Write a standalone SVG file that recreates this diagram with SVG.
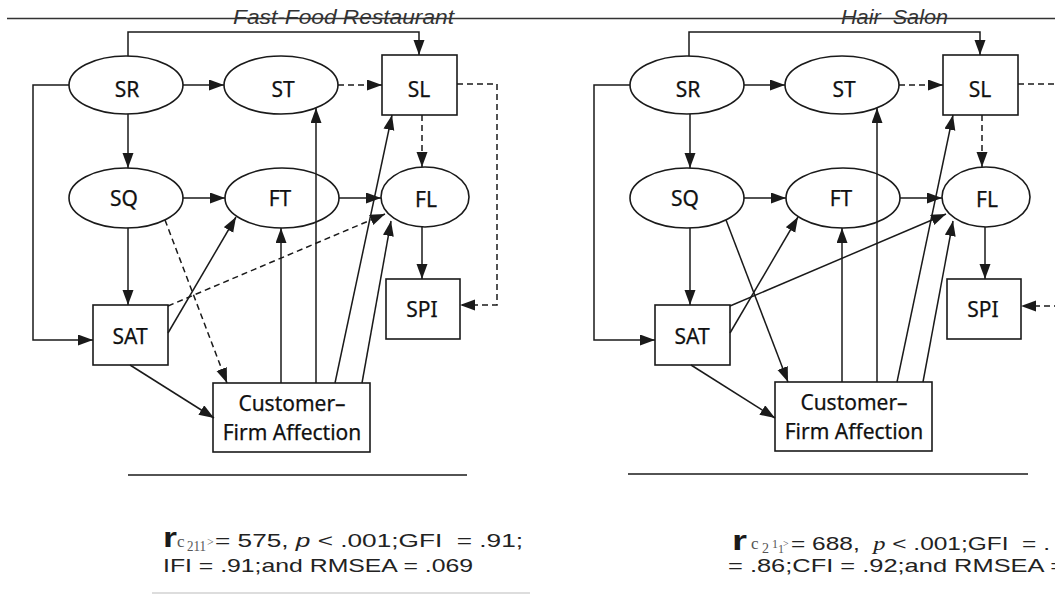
<svg xmlns="http://www.w3.org/2000/svg" width="1055" height="594" viewBox="0 0 1055 594">
<defs>
<style>
.ln{stroke:#1a1a1a;stroke-width:1.5;fill:none}
.dash{stroke-dasharray:6 4}
.nd{fill:#fff;stroke:#1a1a1a;stroke-width:1.6}
.lbl{font-family:"Noto Sans","Open Sans",sans-serif;font-size:21px;fill:#111;text-anchor:middle;stroke:#111;stroke-width:0.25}
.ttl{font-family:"Liberation Sans",Arial,sans-serif;font-style:italic;font-size:20px;fill:#333}
.st{font-family:"Liberation Sans",Arial,sans-serif;font-size:19px;fill:#222}
.rr{font-family:"Liberation Sans",Arial,sans-serif;font-weight:bold;font-size:28px;fill:#1a1a1a}
.sub{font-family:"Liberation Serif","Times New Roman",serif;fill:#555}
</style>
<marker id="ah" markerUnits="userSpaceOnUse" markerWidth="16" markerHeight="12" refX="15" refY="5.5" orient="auto">
<path d="M0,0 L15,5.5 L0,11 z" fill="#1a1a1a"/>
</marker>
</defs>
<rect width="1055" height="594" fill="#fff"/>

<!-- header rule and titles -->
<line x1="7" y1="18.5" x2="1055" y2="18.5" stroke="#333" stroke-width="1.3"/>
<text class="ttl" x="233" y="24" textLength="221" lengthAdjust="spacingAndGlyphs">Fast-Food Restaurant</text>
<text class="ttl" x="841" y="24" textLength="107" lengthAdjust="spacingAndGlyphs" xml:space="preserve">Hair  Salon</text>

<!-- LEFT PANEL NODES -->
<g id="L-SR"><ellipse class="nd" cx="126" cy="85" rx="57" ry="29"/><text class="lbl" x="127" y="97">SR</text></g>
<g id="L-ST"><ellipse class="nd" cx="281" cy="85" rx="57" ry="29"/><text class="lbl" x="283" y="97">ST</text></g>
<g id="L-SL"><rect class="nd" x="382" y="55" width="75" height="60"/><text class="lbl" x="419" y="97">SL</text></g>
<g id="L-SQ"><ellipse class="nd" cx="126" cy="198" rx="57" ry="30"/><text class="lbl" x="124" y="206">SQ</text></g>
<g id="L-FT"><ellipse class="nd" cx="282" cy="198" rx="57" ry="30"/><text class="lbl" x="280" y="206">FT</text></g>
<g id="L-FL"><ellipse class="nd" cx="425" cy="197" rx="44" ry="30"/><text class="lbl" x="426" y="207">FL</text></g>
<g id="L-SPI"><rect class="nd" x="386" y="279" width="74" height="60"/><text class="lbl" x="422" y="317">SPI</text></g>
<g id="L-SAT"><rect class="nd" x="93" y="305" width="75" height="60"/><text class="lbl" x="130" y="344">SAT</text></g>
<g id="L-CFA"><rect class="nd" x="213" y="383" width="157" height="69"/><text class="lbl" x="292" y="411">Customer–</text><text class="lbl" x="292" y="440">Firm Affection</text></g>

<!-- RIGHT PANEL NODES -->
<g id="R-SR"><ellipse class="nd" cx="687" cy="85" rx="57" ry="29"/><text class="lbl" x="688" y="97">SR</text></g>
<g id="R-ST"><ellipse class="nd" cx="842" cy="85" rx="57" ry="29"/><text class="lbl" x="844" y="97">ST</text></g>
<g id="R-SL"><rect class="nd" x="943" y="55" width="75" height="60"/><text class="lbl" x="980" y="97">SL</text></g>
<g id="R-SQ"><ellipse class="nd" cx="687" cy="198" rx="57" ry="30"/><text class="lbl" x="685" y="206">SQ</text></g>
<g id="R-FT"><ellipse class="nd" cx="843" cy="198" rx="57" ry="30"/><text class="lbl" x="841" y="206">FT</text></g>
<g id="R-FL"><ellipse class="nd" cx="986" cy="197" rx="44" ry="30"/><text class="lbl" x="987" y="207">FL</text></g>
<g id="R-SPI"><rect class="nd" x="947" y="279" width="74" height="60"/><text class="lbl" x="983" y="317">SPI</text></g>
<g id="R-SAT"><rect class="nd" x="655" y="305" width="75" height="60"/><text class="lbl" x="692" y="344">SAT</text></g>
<g id="R-CFA"><rect class="nd" x="775" y="382" width="157" height="69"/><text class="lbl" x="854" y="410">Customer–</text><text class="lbl" x="854" y="439">Firm Affection</text></g>

<!-- CONNECTORS -->
<g id="connectors">
<!-- left -->
<path class="ln" d="M128,56 V32 H419 V55" marker-end="url(#ah)"/>
<path class="ln" d="M183,85 H224" marker-end="url(#ah)"/>
<path class="ln dash" d="M338,85 H382" marker-end="url(#ah)"/>
<path class="ln dash" d="M457,84 H497 V305 H460" marker-end="url(#ah)"/>
<path class="ln" d="M69,85 H33 V340 H93" marker-end="url(#ah)"/>
<path class="ln" d="M128,114 V168" marker-end="url(#ah)"/>
<path class="ln" d="M183,198 H225" marker-end="url(#ah)"/>
<path class="ln" d="M339,198 H381" marker-end="url(#ah)"/>
<path class="ln dash" d="M422,115 V167" marker-end="url(#ah)"/>
<path class="ln" d="M422,227 V279" marker-end="url(#ah)"/>
<path class="ln" d="M128,228 V305" marker-end="url(#ah)"/>
<path class="ln" d="M168,333 L236,217" marker-end="url(#ah)"/>
<path class="ln dash" d="M168,306 L385,214" marker-end="url(#ah)"/>
<path class="ln dash" d="M165,220 L227,383" marker-end="url(#ah)"/>
<path class="ln" d="M130,365 L214,418" marker-end="url(#ah)"/>
<path class="ln" d="M281,383 V228" marker-end="url(#ah)"/>
<path class="ln" d="M316,383 V108" marker-end="url(#ah)"/>
<path class="ln" d="M335,383 L392,115" marker-end="url(#ah)"/>
<path class="ln" d="M362,383 L391,221" marker-end="url(#ah)"/>
<!-- right -->
<path class="ln" d="M689,56 V32 H980 V55" marker-end="url(#ah)"/>
<path class="ln" d="M744,85 H785" marker-end="url(#ah)"/>
<path class="ln dash" d="M899,85 H943" marker-end="url(#ah)"/>
<path class="ln dash" d="M1018,84 H1058 V306 H1021" marker-end="url(#ah)"/>
<path class="ln" d="M630,85 H594 V340 H655" marker-end="url(#ah)"/>
<path class="ln" d="M690,114 V168" marker-end="url(#ah)"/>
<path class="ln" d="M744,198 H786" marker-end="url(#ah)"/>
<path class="ln" d="M900,198 H942" marker-end="url(#ah)"/>
<path class="ln dash" d="M982,115 V167" marker-end="url(#ah)"/>
<path class="ln" d="M985,227 V279" marker-end="url(#ah)"/>
<path class="ln" d="M690,228 V305" marker-end="url(#ah)"/>
<path class="ln" d="M730,333 L798,217" marker-end="url(#ah)"/>
<path class="ln" d="M730,306 L946,214" marker-end="url(#ah)"/>
<path class="ln" d="M726,220 L788,382" marker-end="url(#ah)"/>
<path class="ln" d="M691,365 L775,418" marker-end="url(#ah)"/>
<path class="ln" d="M842,382 V228" marker-end="url(#ah)"/>
<path class="ln" d="M877,382 V108" marker-end="url(#ah)"/>
<path class="ln" d="M897,382 L953,115" marker-end="url(#ah)"/>
<path class="ln" d="M923,382 L953,221" marker-end="url(#ah)"/>
</g>

<!-- rules -->
<line x1="128" y1="475" x2="467" y2="475" stroke="#1a1a1a" stroke-width="1.5"/>
<line x1="628" y1="474" x2="1028" y2="474" stroke="#1a1a1a" stroke-width="1.5"/>
<line x1="152" y1="593" x2="530" y2="593" stroke="#bbb" stroke-width="1.2"/>

<!-- fit statistics left -->
<text class="rr" x="163" y="547" textLength="14" lengthAdjust="spacingAndGlyphs">r</text>
<text class="sub" x="177" y="547" font-size="17">c</text>
<text class="sub" x="187" y="551" font-size="14" textLength="19" lengthAdjust="spacingAndGlyphs">211</text>
<text class="sub" x="207" y="546" font-size="12">&gt;</text>
<text class="st" x="215" y="547" textLength="308" lengthAdjust="spacingAndGlyphs" xml:space="preserve">= 575, <tspan font-style="italic">p</tspan> &lt; .001;GFI  = .91;</text>
<text class="st" x="163" y="572" textLength="310" lengthAdjust="spacingAndGlyphs">IFI = .91;and RMSEA = .069</text>

<!-- fit statistics right -->
<text class="rr" x="732" y="550" textLength="15" lengthAdjust="spacingAndGlyphs">r</text>
<text class="sub" x="751" y="549" font-size="17">c</text>
<text class="sub" x="762" y="553" font-size="14">2</text>
<text class="sub" x="772" y="548" font-size="12">1</text>
<text class="sub" x="778" y="553" font-size="12">1</text>
<text class="sub" x="783" y="547" font-size="10">&gt;</text>
<text class="st" x="791" y="550" textLength="259" lengthAdjust="spacingAndGlyphs" xml:space="preserve">= 688,  <tspan font-family="Liberation Serif" font-style="italic">p</tspan> &lt; .001;GFI  = .</text>
<text class="st" x="728" y="572" textLength="337" lengthAdjust="spacingAndGlyphs">= .86;CFI = .92;and RMSEA =</text>
</svg>
